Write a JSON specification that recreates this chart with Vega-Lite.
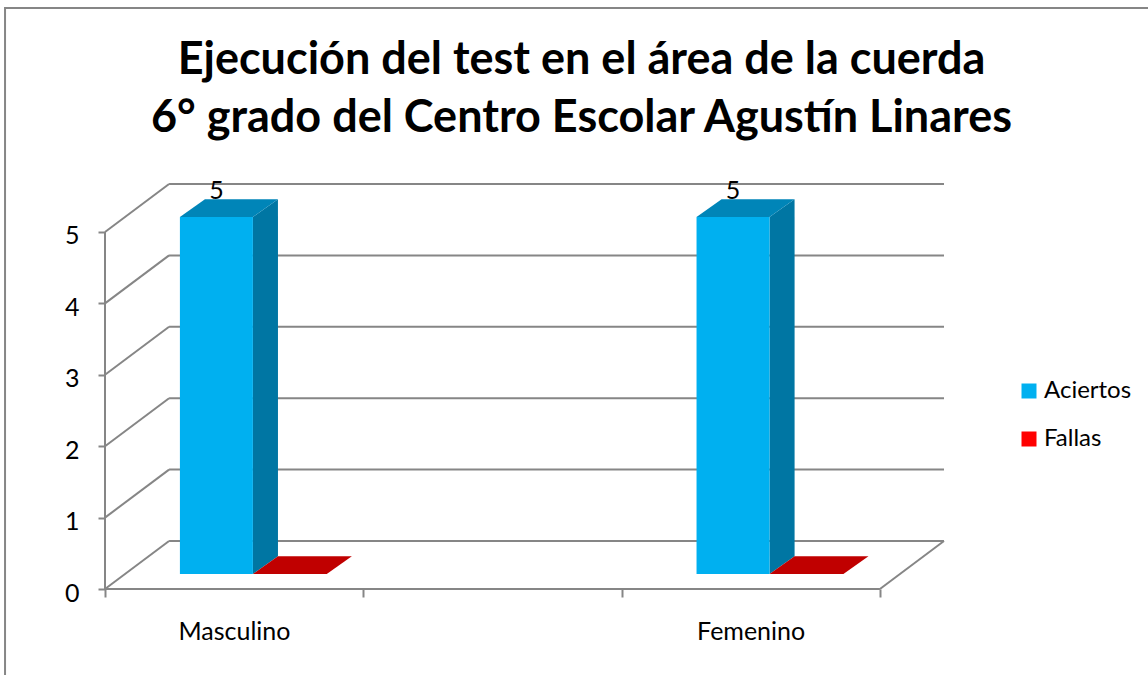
{
"$schema":"https://vega.github.io/schema/vega-lite/v6.json",
"width":839,"height":405,
"autosize":{"type":"none"},
"padding":{"left":105,"top":184,"right":204,"bottom":86},
"background":"white",
"config":{"view":{"stroke":null},"font":"Lato"},
"title":{"text":["Ejecución del test en el área de la cuerda","6° grado del Centro Escolar Agustín Linares"],"font":"Lato","fontSize":45,"fontWeight":"bold","color":"#000000","lineHeight":58,"anchor":"middle","dx":57,"offset":-134},
"data":{"values":[
{"categoria":"Masculino","serie":"Aciertos","valor":5},
{"categoria":"Masculino","serie":"Fallas","valor":0},
{"categoria":"Femenino","serie":"Aciertos","valor":5},
{"categoria":"Femenino","serie":"Fallas","valor":0}
]},
"transform":[
{"calculate":"(datum.categoria==='Masculino'?0:2)+0.29+(datum.serie==='Fallas'?0.2826:0)","as":"izq"},
{"calculate":"datum.izq+(datum.serie==='Fallas'?0.286:0.2826)","as":"der"},
{"calculate":"0.21+datum.valor","as":"cima"},
{"calculate":"0.21","as":"pie"}
],
"layer":[
{"data":{"values":[{"x0":-0.387,"x1":4.08,"y0":8.137,"y1":-1.41}]},"mark":{"type":"rect","fill":null,"stroke":"#868686","strokeWidth":2},
 "encoding":{"x":{"field":"x0","type":"quantitative","scale":{"domain":[0,3.248],"nice":false,"zero":false},"axis":{"values":[0,1,2,3],"title":null,"domain":false,"grid":false,"ticks":true,"tickSize":8,"tickWidth":2,"tickColor":"#868686","labelExpr":"datum.value===0?'Masculino':datum.value===2?'Femenino':''","labelOffset":129,"labelFont":"Lato","labelFontSize":25,"labelColor":"#000000","labelPadding":22,"labelFlush":false,"labelOverlap":false}},
 "x2":{"field":"x1"},
 "y":{"field":"y0","type":"quantitative","scale":{"domain":[0,5.672],"nice":false,"zero":false},"axis":{"values":[0,1,2,3,4,5],"title":null,"domain":false,"grid":false,"tickSize":7,"tickWidth":2,"tickColor":"#868686","labelFont":"Lato","labelFontSize":25,"labelColor":"#000000","labelPadding":19,"labelOffset":4,"labelFlush":false,"format":"d"}},
 "y2":{"field":"y1"}}},
{"data":{"values":[{"nivel":0},{"nivel":1},{"nivel":2},{"nivel":3},{"nivel":4},{"nivel":5}]},
 "transform":[{"calculate":"datum.nivel+0.672","as":"fondo"},{"calculate":"0.248","as":"xa"},{"calculate":"3.248","as":"xb"},{"calculate":"0","as":"xc"}],
 "layer":[
 {"mark":{"type":"rule","stroke":"#868686","strokeWidth":2},"encoding":{"x":{"field":"xa","type":"quantitative"},"x2":{"field":"xb"},"y":{"field":"fondo","type":"quantitative"}}},
 {"mark":{"type":"rule","stroke":"#868686","strokeWidth":2},"encoding":{"x":{"field":"xc","type":"quantitative"},"x2":{"field":"xa"},"y":{"field":"nivel","type":"quantitative"},"y2":{"field":"fondo"}}}
 ]},
{"data":{"values":[{"xa":0,"xb":3,"ya":0,"yb":0},{"xa":0,"xb":0,"ya":0,"yb":5},{"xa":3,"xb":3.248,"ya":0,"yb":0.672}]},"mark":{"type":"rule","stroke":"#868686","strokeWidth":2},"encoding":{"x":{"field":"xa","type":"quantitative"},"x2":{"field":"xb"},"y":{"field":"ya","type":"quantitative"},"y2":{"field":"yb"}}},
{"transform":[
 {"calculate":"datum.der","as":"lado_frente"},
 {"calculate":"datum.der+0.097","as":"lado_fondo"},
 {"fold":["lado_frente","lado_fondo"],"as":["arista","xlado"]},
 {"calculate":"0.21+(datum.arista==='lado_fondo'?0.25:0)","as":"ypie"},
 {"calculate":"datum.ypie+datum.valor","as":"ytope"}
 ],
 "mark":{"type":"area"},
 "encoding":{"x":{"field":"xlado","type":"quantitative"},"y":{"field":"ytope","type":"quantitative"},"y2":{"field":"ypie"},"detail":{"field":"categoria"},"color":{"field":"serie","type":"nominal","legend":null,"scale":{"domain":["Aciertos","Fallas"],"range":["#0076a3","#a00000"]}}}},
{"transform":[
 {"calculate":"datum.cima","as":"cara_frente"},
 {"calculate":"datum.cima+0.25","as":"cara_fondo"},
 {"fold":["cara_frente","cara_fondo"],"as":["arista","ycara"]},
 {"calculate":"datum.izq+(datum.arista==='cara_fondo'?0.097:0)","as":"xa"},
 {"calculate":"datum.der+(datum.arista==='cara_fondo'?0.097:0)","as":"xb"}
 ],
 "mark":{"type":"area","orient":"horizontal"},
 "encoding":{"y":{"field":"ycara","type":"quantitative"},"x":{"field":"xa","type":"quantitative"},"x2":{"field":"xb"},"detail":{"field":"categoria"},"color":{"field":"serie","type":"nominal","legend":null,"scale":{"domain":["Aciertos","Fallas"],"range":["#0085b8","#c00000"]}}}},
{"mark":{"type":"rect"},
 "encoding":{"x":{"field":"izq","type":"quantitative"},"x2":{"field":"der"},"y":{"field":"pie","type":"quantitative"},"y2":{"field":"cima"},
 "color":{"field":"serie","type":"nominal","scale":{"domain":["Aciertos","Fallas"],"range":["#00b0f0","#ff0000"]},
 "legend":{"title":null,"orient":"none","legendX":912,"legendY":195,"symbolType":"square","symbolSize":225,"symbolStrokeWidth":0,"labelFont":"Lato","labelFontSize":24,"labelColor":"#000000","labelOffset":3,"rowPadding":24,"padding":0}}}},
{"transform":[{"filter":"datum.valor>0"},{"calculate":"datum.cima+0.25","as":"ytexto"},{"calculate":"(datum.izq+datum.der)/2","as":"xtexto"}],
 "mark":{"type":"text","font":"Lato","fontSize":25,"color":"#000000","align":"center","baseline":"alphabetic"},
 "encoding":{"x":{"field":"xtexto","type":"quantitative"},"y":{"field":"ytexto","type":"quantitative"},"text":{"field":"valor","type":"quantitative"}}}
],
"resolve":{"scale":{"color":"independent"}}
}
